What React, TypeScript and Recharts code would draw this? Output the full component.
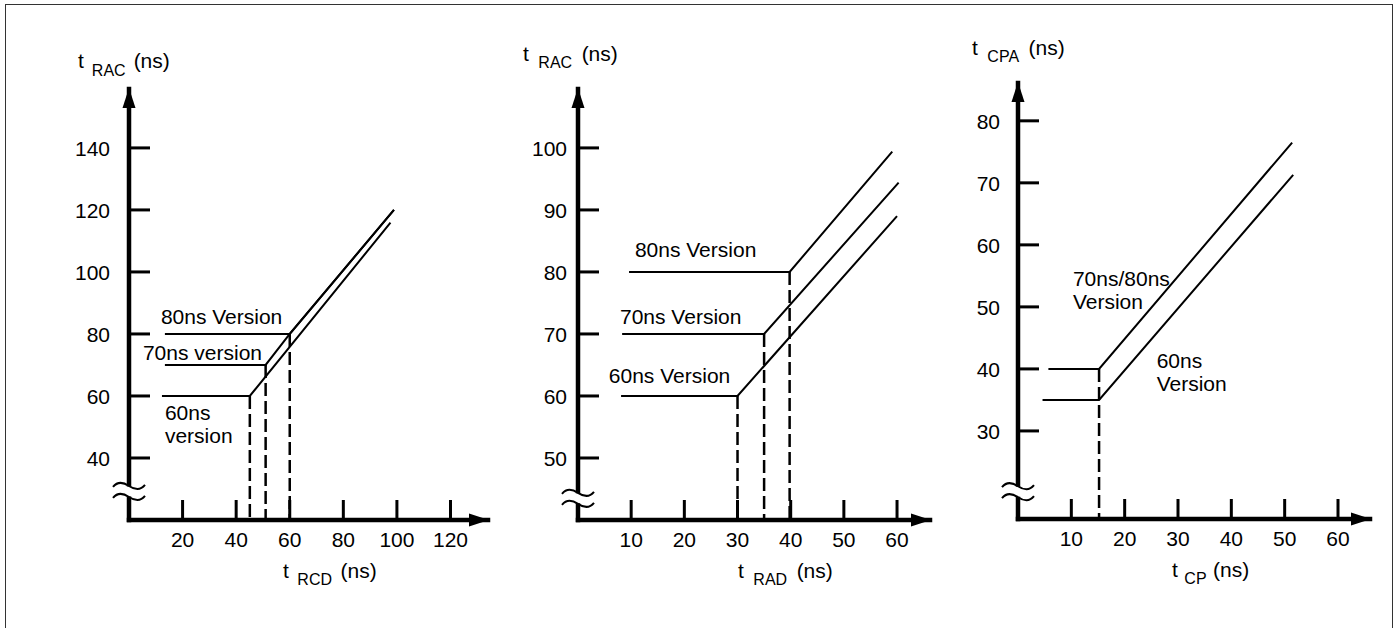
import { LineChart, Line, XAxis, YAxis, ReferenceDot } from 'recharts';

const FONT = '"Liberation Sans", Arial, Helvetica, sans-serif';
const W = 1395;
const H = 628;
const FS = 21;

type Pt = { x: number; y: number };

// tRAC vs tRCD
const rcdTicks = [20, 40, 60, 80, 100, 120];
const racTicksA = [40, 60, 80, 100, 120, 140];
const rcd80: Pt[] = [{ x: 13.4, y: 80 }, { x: 60, y: 80 }, { x: 98.9, y: 120 }];
const rcd70: Pt[] = [{ x: 13.4, y: 70 }, { x: 51, y: 70 }, { x: 60, y: 80 }, { x: 98.9, y: 120 }];
const rcd60: Pt[] = [{ x: 12.3, y: 60 }, { x: 45.1, y: 60 }, { x: 97.6, y: 115.9 }];

// tRAC vs tRAD
const radTicks = [10, 20, 30, 40, 50, 60];
const racTicksB = [50, 60, 70, 80, 90, 100];
const rad80: Pt[] = [{ x: 9.6, y: 80 }, { x: 39.8, y: 80 }, { x: 59.1, y: 99.4 }];
const rad70: Pt[] = [{ x: 8.3, y: 70 }, { x: 35, y: 70 }, { x: 60.3, y: 94.4 }];
const rad60: Pt[] = [{ x: 8.1, y: 60 }, { x: 30, y: 60 }, { x: 60, y: 89 }];

// tCPA vs tCP
const cpTicks = [10, 20, 30, 40, 50, 60];
const cpaTicks = [30, 40, 50, 60, 70, 80];
const cp7080: Pt[] = [{ x: 5.7, y: 40 }, { x: 15.2, y: 40 }, { x: 51.4, y: 76.5 }];
const cp60: Pt[] = [{ x: 4.6, y: 35 }, { x: 15.2, y: 35 }, { x: 51.6, y: 71.3 }];

interface Note { text: string; x: number; y: number }
interface Title { sub: string; dx: number; dy: number; gap: number; subDy: number }
interface Panel {
  box: { left: number; top: number; right: number; bottom: number };
  xDomain: [number, number];
  yDomain: [number, number];
  xTicks: number[];
  yTicks: number[];
  series: Pt[][];
  drops: Pt[][];
  notes: Note[];
  yTitle: Title;
  xTitle: Title;
  yLabelGap: number;
  breakY: number;
}

const panels: Panel[] = [
  {
    box: { left: 129, top: 89, right: 488, bottom: 520 },
    xDomain: [0, 134],
    yDomain: [20, 159],
    xTicks: rcdTicks,
    yTicks: racTicksA,
    series: [rcd80, rcd70, rcd60],
    drops: [rcd60, rcd70, rcd80],
    notes: [
      { text: '80ns Version', x: 11.9, y: 83.2 },
      { text: '70ns version', x: 5.2, y: 71.6 },
      { text: '60ns', x: 13.4, y: 52.3 },
      { text: 'version', x: 13.4, y: 44.8 },
    ],
    yTitle: { sub: 'RAC', dx: -51, dy: -21, gap: 8, subDy: 8 },
    xTitle: { sub: 'RCD', dx: 154, dy: 58, gap: 8.5, subDy: 7 },
    yLabelGap: 19,
    breakY: 29.2,
  },
  {
    box: { left: 578, top: 89, right: 930, bottom: 520 },
    xDomain: [0, 66.2],
    yDomain: [40, 109.5],
    xTicks: radTicks,
    yTicks: racTicksB,
    series: [rad80, rad70, rad60],
    drops: [rad60, rad70, rad80],
    notes: [
      { text: '80ns Version', x: 10.7, y: 82.4 },
      { text: '70ns Version', x: 7.9, y: 71.6 },
      { text: '60ns Version', x: 5.8, y: 62.1 },
    ],
    yTitle: { sub: 'RAC', dx: -55, dy: -28, gap: 9.5, subDy: 7 },
    xTitle: { sub: 'RAD', dx: 160, dy: 58, gap: 9.5, subDy: 7 },
    yLabelGap: 11,
    breakY: 43.5,
  },
  {
    box: { left: 1018, top: 83, right: 1370, bottom: 519 },
    xDomain: [0, 66],
    yDomain: [15.8, 86.1],
    xTicks: cpTicks,
    yTicks: cpaTicks,
    series: [cp7080, cp60],
    drops: [cp7080],
    notes: [
      { text: '70ns/80ns', x: 10.3, y: 53.4 },
      { text: 'Version', x: 10.3, y: 49.7 },
      { text: '60ns', x: 26, y: 40.2 },
      { text: 'Version', x: 26, y: 36.5 },
    ],
    yTitle: { sub: 'CPA', dx: -46, dy: -28, gap: 9.5, subDy: 7 },
    xTitle: { sub: 'CP', dx: 154, dy: 58, gap: 6.5, subDy: 7 },
    yLabelGap: 18,
    breakY: 20.2,
  },
];

// axes need a non-zero size to be drawn
const AXIS_W = 1;
const AXIS_H = 1;

function AxisTitle({ x, y, t }: { x: number; y: number; t: Title }) {
  return (
    <text x={x} y={y} fontSize={FS} fontFamily={FONT} fill="#000">
      t
      <tspan dx={t.gap} dy={t.subDy} fontSize={16}>{t.sub}</tspan>
      <tspan dx={t.gap} dy={-t.subDy} fontSize={FS}>(ns)</tspan>
    </text>
  );
}

const titleContent = (t: Title, offX: number) => (lp: any) => {
  const vb = lp.viewBox || { x: 0, y: 0 };
  return <AxisTitle x={vb.x + offX + t.dx} y={vb.y + t.dy} t={t} />;
};

const xTick = (p: any) => (
  <g>
    <line x1={p.x} y1={p.y} x2={p.x} y2={p.y - 20} stroke="#000" strokeWidth={3} />
    <text x={p.x} y={p.y + 27} textAnchor="middle" fontSize={FS} fontFamily={FONT} fill="#000">
      {p.payload.value}
    </text>
  </g>
);

const yTick = (gap: number) => (p: any) => (
  <g>
    <line x1={p.x} y1={p.y} x2={p.x + 21} y2={p.y} stroke="#000" strokeWidth={3} />
    <text x={p.x - gap} y={p.y + 8.5} textAnchor="end" fontSize={FS} fontFamily={FONT} fill="#000">
      {p.payload.value}
    </text>
  </g>
);

const noteShape = (text: string) => (p: any) => (
  <text x={p.cx} y={p.cy} fontSize={FS} fontFamily={FONT} fill="#000">{text}</text>
);

const arrowRight = (p: any) => (
  <path d={`M${p.cx + 1} ${p.cy} L${p.cx - 19} ${p.cy - 6.5} L${p.cx - 19} ${p.cy + 6.5} Z`} fill="#000" />
);

const arrowUp = (p: any) => (
  <path d={`M${p.cx} ${p.cy - 1} L${p.cx - 6.5} ${p.cy + 19} L${p.cx + 6.5} ${p.cy + 19} Z`} fill="#000" />
);

const breakShape = (p: any) => {
  const { cx, cy } = p;
  const wave = (oy: number) =>
    `M${cx - 16} ${cy + oy + 1} C${cx - 12} ${cy + oy - 4} ${cx - 6} ${cy + oy - 4} ${cx} ${cy + oy} S${cx + 12} ${cy + oy + 4} ${cx + 16} ${cy + oy - 1}`;
  return (
    <g>
      <rect x={cx - 3.5} y={cy - 5} width={7} height={10} fill="#fff" />
      <path d={wave(-5.5)} fill="none" stroke="#000" strokeWidth={2} />
      <path d={wave(5.5)} fill="none" stroke="#000" strokeWidth={2} />
    </g>
  );
};

function PanelChart({ p }: { p: Panel }) {
  const [x0, x1] = p.xDomain;
  const [y0, y1] = p.yDomain;
  return (
    <div style={{ position: 'absolute', left: 0, top: 0 }}>
      <LineChart
        width={W}
        height={H}
        margin={{
          left: p.box.left - AXIS_W,
          top: p.box.top,
          right: W - p.box.right,
          bottom: H - p.box.bottom - AXIS_H,
        }}
      >
        <XAxis
          type="number"
          dataKey="x"
          domain={p.xDomain}
          ticks={p.xTicks}
          interval={0}
          height={AXIS_H}
          tickSize={0}
          tickMargin={0}
          tickLine={false}
          axisLine={{ stroke: '#000', strokeWidth: 4.5, strokeLinecap: 'square' }}
          tick={xTick}
          label={{ content: titleContent(p.xTitle, 0) }}
        />
        <YAxis
          type="number"
          domain={p.yDomain}
          ticks={p.yTicks}
          interval={0}
          width={AXIS_W}
          tickSize={0}
          tickMargin={0}
          tickLine={false}
          axisLine={{ stroke: '#000', strokeWidth: 4.5, strokeLinecap: 'square' }}
          tick={yTick(p.yLabelGap)}
          label={{ content: titleContent(p.yTitle, AXIS_W) }}
        />
        {p.drops.map((s, i) => (
          <Line
            key={`d${i}`}
            data={[{ x: s[1].x, y: s[1].y }, { x: s[1].x, y: y0 }]}
            dataKey="y"
            stroke="#000"
            strokeWidth={2.5}
            strokeDasharray="13 5"
            dot={false}
            activeDot={false}
            isAnimationActive={false}
          />
        ))}
        {p.series.map((s, i) => (
          <Line
            key={`s${i}`}
            data={s}
            dataKey="y"
            stroke="#000"
            strokeWidth={2}
            dot={false}
            activeDot={false}
            isAnimationActive={false}
          />
        ))}
        {p.notes.map((n, i) => (
          <ReferenceDot key={`n${i}`} x={n.x} y={n.y} ifOverflow="visible" shape={noteShape(n.text)} />
        ))}
        <ReferenceDot x={x0} y={p.breakY} ifOverflow="visible" shape={breakShape} />
        <ReferenceDot x={x1} y={y0} ifOverflow="visible" shape={arrowRight} />
        <ReferenceDot x={x0} y={y1} ifOverflow="visible" shape={arrowUp} />
      </LineChart>
    </div>
  );
}

export default function App() {
  return (
    <div
      style={{
        position: 'absolute',
        left: 0,
        top: 0,
        width: W,
        height: H,
        background: '#fff',
        overflow: 'hidden',
        fontFamily: FONT,
      }}
    >
      <div
        style={{
          position: 'absolute',
          left: 5,
          top: 4,
          width: 1388,
          height: 700,
          border: '1.5px solid #333',
          boxSizing: 'border-box',
        }}
      />
      {panels.map((p, i) => (
        <PanelChart key={i} p={p} />
      ))}
    </div>
  );
}
